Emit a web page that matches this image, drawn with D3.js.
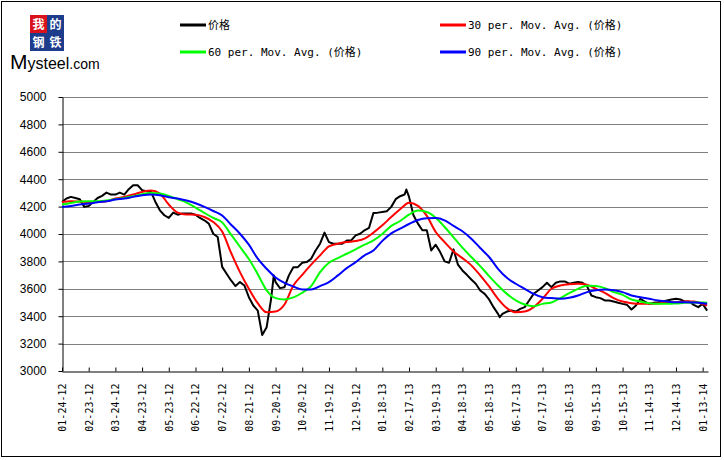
<!DOCTYPE html>
<html>
<head>
<meta charset="utf-8">
<script src="https://cdnjs.cloudflare.com/ajax/libs/d3/7.8.5/d3.min.js"></script>
<style>
	body { margin: 0; background: #fff; }
	svg { display: block; }
</style>
</head>
<body>
<svg id="chart"></svg>
<script>
var priceDates = [
	"01-24-12","01-29-12","02-03-12","02-08-12","02-13-12","02-18-12",
	"02-23-12","02-28-12","03-04-12","03-09-12","03-14-12","03-19-12",
	"03-24-12","03-29-12","04-03-12","04-08-12","04-13-12","04-18-12",
	"04-23-12","04-28-12","05-03-12","05-08-12","05-13-12","05-18-12",
	"05-23-12","05-28-12","06-02-12","06-07-12","06-12-12","06-17-12",
	"06-22-12","06-27-12","07-02-12","07-07-12","07-12-12","07-17-12",
	"07-22-12","07-27-12","08-01-12","08-06-12","08-11-12","08-16-12",
	"08-21-12","08-26-12","08-31-12","09-05-12","09-10-12","09-15-12","09-18-12",
	"09-20-12","09-25-12","09-30-12","10-05-12","10-10-12","10-15-12",
	"10-20-12","10-25-12","10-30-12","11-04-12","11-09-12","11-14-12",
	"11-19-12","11-24-12","11-29-12","12-04-12","12-09-12","12-14-12",
	"12-19-12","12-24-12","12-29-12","01-03-13","01-08-13","01-13-13",
	"01-18-13","01-23-13","01-28-13","02-02-13","02-07-13","02-12-13","02-14-13",
	"02-17-13","02-22-13","02-27-13","03-04-13","03-09-13","03-14-13",
	"03-19-13","03-24-13","03-29-13","04-03-13","04-08-13","04-13-13",
	"04-18-13","04-23-13","04-28-13","05-03-13","05-08-13","05-13-13",
	"05-18-13","05-23-13","05-28-13","05-30-13","06-02-13","06-07-13","06-12-13",
	"06-17-13","06-22-13","06-27-13","07-02-13","07-07-13","07-12-13",
	"07-17-13","07-22-13","07-27-13","08-01-13","08-06-13","08-11-13",
	"08-16-13","08-21-13","08-26-13","08-31-13","09-05-13","09-10-13",
	"09-15-13","09-20-13","09-25-13","09-30-13","10-05-13","10-10-13",
	"10-15-13","10-20-13","10-25-13","10-30-13","11-04-13","11-09-13",
	"11-14-13","11-19-13","11-24-13","11-29-13","12-04-13","12-09-13",
	"12-14-13","12-19-13","12-24-13","12-29-13","01-03-14","01-08-14",
	"01-13-14","01-18-14"
];

var price = [
	4234, 4259, 4271, 4263, 4254, 4198,
	4205, 4234, 4263, 4278, 4302, 4288,
	4288, 4302, 4288, 4327, 4356, 4356,
	4320, 4312, 4307, 4234, 4173, 4137,
	4117, 4156, 4141, 4149, 4149, 4149,
	4141, 4117, 4100, 4076, 4002, 3978,
	3760, 3710, 3661, 3620, 3649, 3624,
	3539, 3478, 3441, 3263, 3320, 3527, 3698,
	3649, 3605, 3612, 3698, 3758, 3758,
	3790, 3795, 3819, 3880, 3929, 4010,
	3941, 3929, 3929, 3929, 3953, 3953,
	3990, 4002, 4027, 4044, 4154, 4156,
	4161, 4166, 4198, 4254, 4276, 4288, 4325,
	4271, 4137, 4076, 4027, 4027, 3880,
	3922, 3868, 3800, 3790, 3888, 3776,
	3734, 3702, 3668, 3637, 3588, 3563,
	3522, 3466, 3417, 3393, 3417, 3434, 3441,
	3434, 3453, 3466, 3515, 3563, 3588,
	3612, 3644, 3612, 3644, 3654, 3654,
	3637, 3644, 3649, 3644, 3620, 3551,
	3539, 3532, 3515, 3515, 3507, 3498,
	3490, 3483, 3449, 3478, 3527, 3507,
	3490, 3498, 3502, 3507, 3515, 3522,
	3527, 3522, 3507, 3507, 3483, 3466,
	3490, 3441
];

var maDates = [
	"01-24-12","02-03-12","02-13-12","02-23-12","03-04-12","03-14-12",
	"03-24-12","04-03-12","04-13-12","04-23-12","05-03-12","05-13-12",
	"05-23-12","06-02-12","06-12-12","06-22-12","07-02-12","07-12-12",
	"07-22-12","08-01-12","08-11-12","08-21-12","08-31-12","09-10-12",
	"09-20-12","09-30-12","10-10-12","10-20-12","10-30-12","11-09-12",
	"11-19-12","11-29-12","12-09-12","12-19-12","12-29-12","01-08-13",
	"01-18-13","01-28-13","02-07-13","02-17-13","02-27-13","03-09-13",
	"03-19-13","03-29-13","04-08-13","04-18-13","04-28-13","05-08-13",
	"05-18-13","05-28-13","06-07-13","06-17-13","06-27-13","07-07-13",
	"07-17-13","07-27-13","08-06-13","08-16-13","08-26-13","09-05-13",
	"09-15-13","09-25-13","10-05-13","10-15-13","10-25-13","11-04-13",
	"11-14-13","11-24-13","12-04-13","12-14-13","12-24-13","01-03-14",
	"01-13-14","01-18-14"
];

var ma30 = [
	4234, 4239, 4237, 4234, 4234, 4239,
	4259, 4271, 4288, 4307, 4317, 4295,
	4215, 4156, 4142, 4141, 4124, 4088,
	4018, 3863, 3722, 3600, 3495, 3429,
	3434, 3485, 3624, 3702, 3776, 3844,
	3910, 3929, 3941, 3949, 3966, 4010,
	4063, 4124, 4180, 4229, 4205, 4132,
	4015, 3941, 3873, 3824, 3771, 3698,
	3617, 3527, 3459, 3429, 3434, 3466,
	3527, 3600, 3624, 3634, 3637, 3629,
	3600, 3571, 3532, 3507, 3495, 3490,
	3490, 3493, 3498, 3502, 3507, 3507,
	3490, 3478
];

var ma60 = [
	4215, 4227, 4237, 4239, 4239, 4244,
	4254, 4263, 4276, 4290, 4300, 4295,
	4278, 4254, 4229, 4193, 4154, 4117,
	4085, 3995, 3907, 3817, 3707, 3588,
	3532, 3522, 3537, 3571, 3620, 3722,
	3790, 3824, 3856, 3888, 3922, 3953,
	4000, 4059, 4095, 4141, 4171, 4161,
	4119, 4051, 3976, 3900, 3832, 3766,
	3693, 3624, 3563, 3515, 3485, 3473,
	3490, 3500, 3532, 3568, 3600, 3622,
	3620, 3605, 3576, 3556, 3522, 3507,
	3495, 3490, 3490, 3493, 3498, 3500,
	3500, 3498
];

var ma90 = [
	4198, 4205, 4215, 4222, 4232, 4239,
	4251, 4259, 4271, 4283, 4288, 4283,
	4268, 4259, 4244, 4224, 4198, 4168,
	4135, 4068, 4002, 3922, 3820, 3746,
	3683, 3644, 3617, 3595, 3595, 3620,
	3649, 3698, 3751, 3795, 3844, 3880,
	3950, 4005, 4039, 4073, 4102, 4115,
	4117, 4100, 4059, 4020, 3966, 3898,
	3832, 3746, 3680, 3637, 3600, 3563,
	3539, 3532, 3527, 3534, 3551, 3576,
	3590, 3595, 3590, 3576, 3551, 3539,
	3527, 3515, 3507, 3502, 3502, 3500,
	3495, 3490
];

var xTickLabels = [
	"01-24-12","02-23-12","03-24-12","04-23-12","05-23-12","06-22-12",
	"07-22-12","08-21-12","09-20-12","10-20-12","11-19-12","12-19-12",
	"01-18-13","02-17-13","03-19-13","04-18-13","05-18-13","06-17-13",
	"07-17-13","08-16-13","09-15-13","10-15-13","11-14-13","12-14-13",
	"01-13-14"
];
var yTicks = [3000, 3200, 3400, 3600, 3800, 4000, 4200, 4400, 4600, 4800, 5000];

var seriesNames = ["价格", "30 per. Mov. Avg. (价格)", "60 per. Mov. Avg. (价格)", "90 per. Mov. Avg. (价格)"];
var seriesColors = ["#000000", "#ff0000", "#00ff00", "#0000ff"];

var width = 724;
var height = 460;
var parseDate = d3.timeParse("%m-%d-%y");
var fmtDate = d3.timeFormat("%m-%d-%y");

var svg = d3.select("#chart")
	.attr("width", width)
	.attr("height", height);

svg.append("rect")
	.attr("x", 1.5)
	.attr("y", 1.5)
	.attr("width", 719)
	.attr("height", 455)
	.attr("fill", "#fff")
	.attr("stroke", "#000");

// logo
var logo = svg.append("g");
var logoChars = [["我", "#d9121b", 30, 15], ["的", "#1d3c8c", 47, 15], ["钢", "#1d3c8c", 30, 33], ["铁", "#1d3c8c", 47, 33]];
logoChars.forEach(function(c) {
	logo.append("rect")
		.attr("x", c[2])
		.attr("y", c[3])
		.attr("width", 17)
		.attr("height", 18)
		.attr("fill", c[1]);
	logo.append("text")
		.attr("x", c[2] + 8.5)
		.attr("y", c[3] + 13.5)
		.attr("text-anchor", "middle")
		.attr("fill", "#fff")
		.style("font-family", "'Noto Sans CJK SC'")
		.style("font-weight", "bold")
		.style("font-size", "12px")
		.text(c[0]);
});
var logoText = logo.append("text")
	.attr("x", 10)
	.attr("y", 69)
	.style("font-family", "'Liberation Sans', Arial, sans-serif")
	.attr("fill", "#000");
logoText.append("tspan").style("font-size", "21px").text("M");
logoText.append("tspan").style("font-size", "16px").text("ysteel");
logoText.append("tspan").style("font-size", "14px").text(".com");

// legend
var legendPos = [[180, 25], [440, 25], [180, 52], [440, 52]];
seriesNames.forEach(function(name, i) {
	svg.append("line")
		.attr("x1", legendPos[i][0])
		.attr("x2", legendPos[i][0] + 26)
		.attr("y1", legendPos[i][1])
		.attr("y2", legendPos[i][1])
		.attr("stroke", seriesColors[i])
		.attr("stroke-width", 3);
	svg.append("text")
		.attr("x", legendPos[i][0] + 28)
		.attr("y", legendPos[i][1] + 4)
		.style("font-family", "'DejaVu Sans Mono', 'Noto Sans CJK SC', monospace")
		.style("font-size", "11px")
		.text(name);
});

var xScale = d3.scaleTime()
	.domain([parseDate("01-24-12"), parseDate("01-19-14")])
	.range([62, 708]);

var yScale = d3.scaleLinear()
	.domain([3000, 5000])
	.range([371, 97]);

// gridlines
svg.append("g")
	.selectAll("line")
	.data(yTicks.slice(1))
	.enter()
	.append("line")
		.attr("x1", xScale.range()[0])
		.attr("x2", xScale.range()[1])
		.attr("y1", function(d) { return Math.round(yScale(d)) + 0.5; })
		.attr("y2", function(d) { return Math.round(yScale(d)) + 0.5; })
		.attr("stroke", "#808080")
		.attr("stroke-width", 1);

// Y Axis
var yAxis = d3.axisLeft(yScale)
	.tickValues(yTicks)
	.tickFormat(d3.format("d"))
	.tickSizeInner(4)
	.tickSizeOuter(0)
	.tickPadding(12);

var gy = svg.append("g")
	.attr("transform", "translate(62.5,0)")
	.call(yAxis);
gy.selectAll("text")
	.style("font-family", "'Liberation Sans', Arial, sans-serif")
	.style("font-size", "12px")
	.attr("fill", "#000");

// X Axis
var xAxis = d3.axisBottom(xScale)
	.tickValues(xTickLabels.map(parseDate))
	.tickFormat(fmtDate)
	.tickSizeInner(-4)
	.tickSizeOuter(0);

var gx = svg.append("g")
	.attr("transform", "translate(0," + 371.5 + ")")
	.call(xAxis);
gx.selectAll("text")
	.attr("transform", "rotate(-90)")
	.attr("x", -12)
	.attr("y", 0)
	.attr("dy", "0.35em")
	.attr("text-anchor", "end")
	.style("font-family", "'DejaVu Sans Mono', monospace")
	.style("font-size", "10px")
	.attr("fill", "#000");
svg.selectAll(".domain").attr("stroke", "#000");
svg.selectAll(".tick line").attr("stroke", "#000");

// series
var line = d3.line()
	.x(function(d) { return xScale(d[0]); })
	.y(function(d) { return yScale(d[1]); });

var smooth = d3.line()
	.curve(d3.curveMonotoneX)
	.x(function(d) { return xScale(d[0]); })
	.y(function(d) { return yScale(d[1]); });

var seriesData = [
	priceDates.map(function(d, i) { return [parseDate(d), price[i]]; }),
	maDates.map(function(d, i) { return [parseDate(d), ma30[i]]; }),
	maDates.map(function(d, i) { return [parseDate(d), ma60[i]]; }),
	maDates.map(function(d, i) { return [parseDate(d), ma90[i]]; })
];

seriesData.forEach(function(data, i) {
	svg.append("path")
		.datum(data)
		.attr("fill", "none")
		.attr("stroke", seriesColors[i])
		.attr("stroke-width", 2)
		.attr("stroke-linejoin", "round")
		.attr("d", i === 0 ? line : smooth);
});
</script>
</body>
</html>
